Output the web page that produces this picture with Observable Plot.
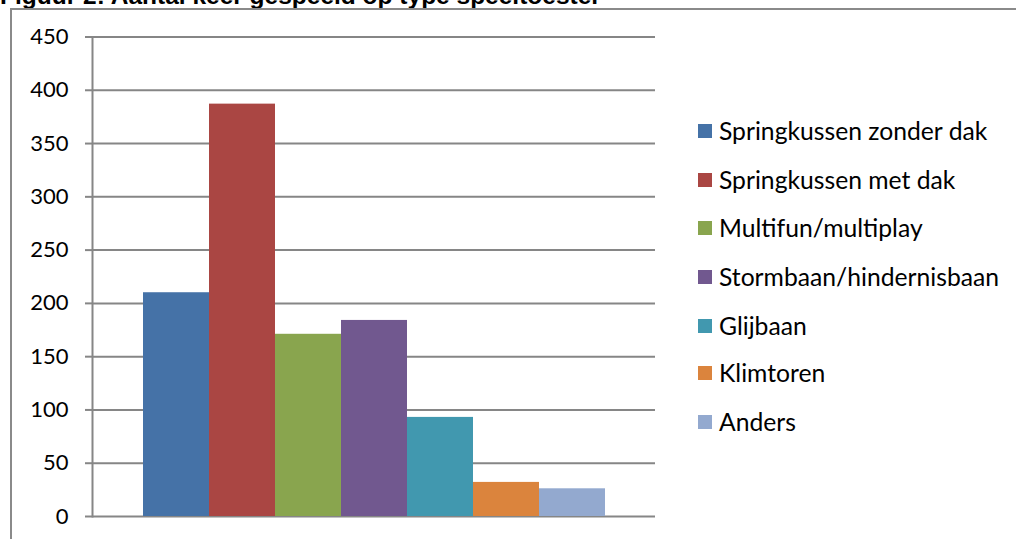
<!DOCTYPE html>
<html>
<head>
<meta charset="utf-8">
<script src="https://cdn.jsdelivr.net/npm/d3@7"></script>
<script src="https://cdn.jsdelivr.net/npm/@observablehq/plot@0.6"></script>
<style>
  html, body { margin: 0; padding: 0; background: #fff; overflow: hidden; }
  #wrap { position: relative; width: 1016px; height: 539px; }
  #wrap svg { position: absolute; left: 0; top: 0; }
  #title { position: absolute; left: 0; top: -16px; font: bold 24.5px "Liberation Sans", Arial, sans-serif; line-height: 1; color: #000; white-space: nowrap; }
  #btop { position: absolute; left: 10px; top: 8px; width: 1006px; height: 0; border-top: 2px solid #8a8a8a; }
  #bleft { position: absolute; left: 10px; top: 8px; width: 0; height: 531px; border-left: 2px solid #8a8a8a; }
  #legend { position: absolute; left: 698px; top: 0; font: 24.7px Lato, "Open Sans", sans-serif; color: #000; }
  .item { position: absolute; left: 0; white-space: nowrap; display: flex; align-items: center; height: 30px; }
  .sw { width: 14px; height: 14px; margin-right: 7px; }
</style>
</head>
<body>
<div id="wrap">
  <div id="title">Figuur 2: Aantal keer gespeeld op type speeltoestel</div>
  <div id="btop"></div>
  <div id="bleft"></div>
  <div id="legend"></div>
</div>
<script>
const categories = ["Springkussen zonder dak", "Springkussen met dak", "Multifun/multiplay", "Stormbaan/hindernisbaan", "Glijbaan", "Klimtoren", "Anders"];
const values = [210, 387, 171, 184, 93, 32, 26];
const colors = ["#4572A7", "#AA4643", "#89A54E", "#71588F", "#4198AF", "#DB843D", "#93A9CF"];
const yTicks = [0, 50, 100, 150, 200, 250, 300, 350, 400, 450];

const data = categories.map((c, i) => ({ category: c, value: values[i] }));

const chart = Plot.plot({
  width: 1016,
  height: 539,
  marginLeft: 92,
  marginRight: 361,
  marginTop: 36.5,
  marginBottom: 23,
  style: { background: "transparent", fontFamily: "Lato, 'Open Sans', sans-serif", fontSize: "22px", color: "#000", overflow: "visible" },
  x: { type: "band", domain: categories, range: [142, 606], padding: 0, axis: null },
  y: { domain: [0, 450], range: [516, 36.5], ticks: yTicks, label: null },
  color: { domain: categories, range: colors },
  marks: [
    Plot.gridY(yTicks, { stroke: "#868686", strokeOpacity: 1, strokeWidth: 2 }),
    Plot.barY(data, { x: "category", y: "value", fill: "category" }),
    Plot.axisY(yTicks, { tickSize: 7, tickPadding: 17, stroke: "#868686", strokeWidth: 2, tickFormat: d => String(d), fill: "#000", label: null }),
    Plot.frame({ anchor: "left", stroke: "#868686", strokeWidth: 2 })
  ]
});
document.getElementById("wrap").insertBefore(chart, document.getElementById("title"));

const rowsY = [131, 180, 228, 277, 326, 373, 422];
const legend = document.getElementById("legend");
categories.forEach((c, i) => {
  const item = document.createElement("div");
  item.className = "item";
  item.style.top = (rowsY[i] - 15.5) + "px";
  const sw = document.createElement("div");
  sw.className = "sw";
  sw.style.background = colors[i];
  const t = document.createElement("span");
  t.textContent = c;
  item.appendChild(sw);
  item.appendChild(t);
  legend.appendChild(item);
});
</script>
</body>
</html>
